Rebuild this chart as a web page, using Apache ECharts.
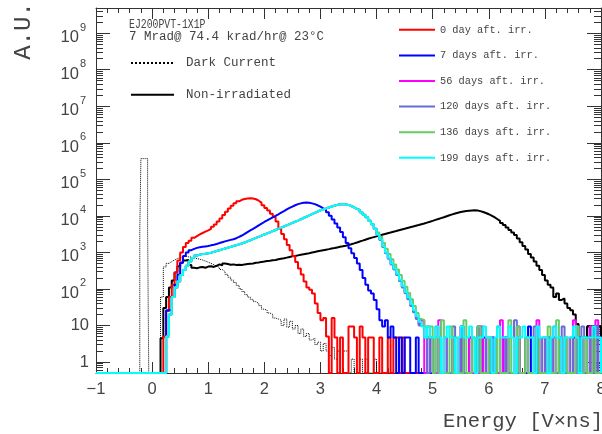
<!DOCTYPE html>
<html><head><meta charset="utf-8">
<script src="https://cdn.jsdelivr.net/npm/echarts@6/dist/echarts.min.js"></script>
<style>html,body{margin:0;padding:0;background:#fff}#c{width:602px;height:434px}</style>
</head><body><div id="c"></div>
<script>
// ---- data (bin width 0.05 in V x ns, values in A.U.; 0 = empty bin) ----
const BIN = 0.05;
const FLOOR = 0.5;
const xRange = [-1, 8];
const yRange = [0.5, 4.9e9];

const darkSpikeStart = -0.22, darkSpikeBin = 0.02;
const darkSpike = [3700, 370000, 370000, 370000, 370000, 370000, 370000, 3700];
const darkStart = 0.15;
const darkBody = [60, 400, 500, 560, 620, 680, 720, 760, 780, 760, 740, 700, 680, 650, 620, 580, 540, 500, 460, 420,
  390, 340, 300, 250, 210, 175, 150, 125, 100, 85, 70, 60, 52, 45, 40, 35, 28, 26, 22, 20,
  16, 15, 14, 10, 15, 9, 13, 8, 10, 6, 8, 5, 6, 4, 4.5, 3, 3.5,
  2, 3.2, 2, 1.5, 2.5, 1.2, 2, 0, 2, 2, 0, 1.2, 0, 0, 1.2, 0, 1.2, 0, 0, 1.2];

const nonIrrStart = 0.15;
const nonIrr = [4.5, 30, 60, 110, 170, 280, 420, 520, 600, 620,
  450, 380, 370, 390, 400, 380, 410, 420, 400, 430,
  470, 440, 500, 480, 460, 470, 450, 460, 450, 470,
  480, 490, 500, 520, 530, 550, 560, 580, 590, 610,
  620, 650, 670, 690, 720, 750, 780, 800, 830, 860,
  890, 920, 950, 990, 1030, 1070, 1110, 1150, 1190, 1230,
  1280, 1320, 1370, 1420, 1470, 1530, 1600, 1680, 1770, 1870,
  1980, 2100, 2230, 2370, 2500, 2620, 2750, 2900, 3050, 3200,
  3350, 3500, 3680, 3850, 4030, 4220, 4420, 4650, 4880, 5100,
  5350, 5600, 5900, 6200, 6550, 6900, 7300, 7750, 8200, 8700,
  9200, 9800, 10400, 11000, 11600, 12200, 12700, 13200, 13600, 13900,
  14100, 14200, 14000, 13500, 12800, 12000, 11100, 10200, 9200, 8200,
  7300, 6400, 5600, 4800, 4100, 3500, 3000, 2400, 1900, 1500,
  1200, 900, 720, 560, 430, 330, 240, 170, 130, 110,
  60, 75, 50, 55, 40, 30, 26, 20, 11, 0,
  0, 4.7, 9.4, 4.7, 9.4, 4.7, 9.4];

const day0Start = 0.20;
const day0 = [5, 25, 60, 130, 280, 600, 1000, 1400, 1800, 2100, 2500, 2800, 3100, 3400, 3700, 4000,
  4400, 5000, 5800, 7000, 8500, 10500, 13000, 16000, 19000, 22000, 25000, 27500, 29000, 30000,
  30500, 30000, 28500, 26000, 23000, 19500, 16500, 14000, 11500, 9500, 7000, 4500, 3200, 2300,
  1600, 1150, 800, 550, 360, 250, 160, 110, 95, 75, 40, 22,
  14, 16, 5, 0, 16, 4.7, 0, 4.7, 0, 0, 9.4, 9.4, 4.7, 0, 9.4, 4.7, 0, 4.7, 4.7, 0,
  0, 4.7, 0, 0, 4.7, 0, 4.7, 4.7, 0, 4.7];

const day7Start = 0.25;
const day7 = [26, 26, 60, 130, 250, 520, 800, 1000, 1150, 1250, 1330, 1380, 1420, 1460, 1500,
  1560, 1620, 1700, 1800, 1900, 2000, 2100, 2200, 2300, 2450, 2650, 2900, 3200, 3600, 4000,
  4400, 4900, 5500, 6100, 6800, 7500, 8300, 9100, 10000, 11000, 12200, 13500, 15000, 16500,
  18000, 19500, 21000, 22000, 23000, 23300, 23000, 22000, 21000, 19500, 17800, 16000, 14500,
  12500, 10000, 8000, 6200, 4800, 3600, 2600, 1800, 1300, 950, 700, 500, 330, 200, 130, 90, 75, 50, 28, 14,
  9.4, 14, 4.7, 9.4, 4.7, 0, 4.7, 0, 4.7, 4.7,
  0, 0, 4.7, 0, 0, 0, 4.7, 0, 0, 0,
  4.7, 0, 0, 0, 0, 4.7, 0, 0, 9.4, 0,
  0, 4.7, 0, 0, 9.4, 0, 4.7, 0, 0, 4.7,
  0, 0, 0, 4.7, 0, 0, 0, 0, 4.7, 0,
  0, 0, 9.4, 0, 0, 4.7, 0, 0, 0, 4.7,
  0, 0, 0, 4.7, 0, 0, 0, 0, 4.7, 0,
  4.7, 0, 0, 4.7, 4.7, 0, 4.7, 0];

// later measurements overlap on the rising part (0.25 .. 3.95)
const lateStart = 0.25;
const lateBody = [5, 20, 60, 110, 160, 240, 330, 430, 560, 700, 820, 870, 900, 920, 950,
  982, 1035, 1092, 1148, 1211, 1277, 1346, 1419, 1496, 1578, 1663, 1754, 1871, 2009, 2158, 2317, 2489, 2673, 2871, 3083,
  3304, 3548, 3811, 4093, 4406, 4753, 5117, 5521, 5957, 6412, 6918, 7447, 8054, 8730, 9484, 10280, 11170, 12100, 13150, 14260,
  15100, 16000, 17000, 18000, 19000, 20000, 20900, 21100, 20650, 19950, 18600, 17200, 15500, 14500, 12600, 10700, 9100, 7400, 5900, 4450];
// individual tails from 4.00
const day56Tail = [3100, 2250, 1450, 980, 690, 480, 350, 250, 170, 115, 80, 55, 36, 24, 16, 11,
  14, 0, 9.4, 4.7, 0, 0, 14, 0, 4.7, 0, 0, 4.7, 0, 0, 9.4, 0, 0, 4.7, 0, 0,
  0, 9.4, 0, 0, 4.7, 0, 0, 0, 14, 0, 4.7, 0, 0, 0, 9.4, 0, 0, 4.7, 0, 0,
  0, 14, 0, 0, 4.7, 0, 0, 9.4, 0, 0, 0, 4.7, 0, 0, 14, 0, 0, 4.7, 0, 0,
  9.4, 0, 14, 4.7];
const day120Tail = [3000, 2200, 1400, 950, 670, 470, 340, 240, 165, 110, 76, 52, 34, 23, 15, 10,
  9.4, 4.7, 0, 4.7, 0, 9.4, 0, 0, 4.7, 0, 0, 9.4, 0, 0, 4.7, 0, 0, 0, 4.7, 0,
  9.4, 0, 0, 4.7, 0, 0, 0, 9.4, 0, 0, 4.7, 0, 0, 14, 0, 0, 0, 4.7, 0, 0,
  9.4, 0, 0, 4.7, 0, 0, 0, 4.7, 0, 0, 9.4, 0, 0, 4.7, 0, 0, 0, 9.4, 0, 0,
  4.7, 0, 9.4, 0];
const day136Tail = [3500, 2700, 1800, 1250, 900, 650, 470, 340, 240, 165, 115, 78, 52, 34, 22, 15,
  14, 9.4, 4.7, 9.4, 0, 4.7, 0, 14, 0, 0, 9.4, 0, 4.7, 0, 0, 14, 0, 0, 4.7, 0,
  9.4, 0, 0, 0, 4.7, 0, 0, 9.4, 0, 0, 0, 14, 0, 0, 9.4, 0, 0, 4.7, 0, 0,
  0, 4.7, 0, 0, 0, 9.4, 0, 0, 14, 0, 0, 4.7, 0, 0, 0, 9.4, 0, 0, 4.7, 0,
  0, 4.7, 0, 0];
const day199Tail = [3160, 2290, 1480, 1000, 710, 500, 360, 260, 178, 120, 83, 58, 38, 26, 18, 12.6,
  9.4, 4.7, 9.4, 4.7, 4.7, 9.4, 4.7, 0, 4.7, 9.4, 4.7, 4.7, 0, 4.7, 9.4, 4.7, 4.7, 9.4, 4.7, 0,
  4.7, 4.7, 9.4, 4.7, 4.7, 0, 4.7, 9.4, 4.7, 4.7, 4.7, 9.4, 4.7, 0, 4.7, 4.7, 9.4, 4.7, 4.7, 4.7,
  0, 9.4, 4.7, 4.7, 4.7, 0, 4.7, 9.4, 4.7, 4.7, 0, 4.7, 4.7, 4.7, 9.4, 4.7, 0, 4.7, 4.7, 4.7,
  4.7, 9.4, 4.7, 4.7];

const legendNames = ['0 day aft. irr.', '7 days aft. irr.', '56 days aft. irr.',
  '120 days aft. irr.', '136 days aft. irr.', '199 days aft. irr.'];
const colors = ['#ff0000', '#0000ff', '#ff00ff', '#6b6bd6', '#66cc66', '#00ffff'];

// ---- build step-histogram point lists ----
function r4(v) { return Math.round(v * 10000) / 10000; }
function hist(segments) {
  const pts = [[xRange[0], FLOOR]];
  segments.forEach(function (s) {
    pts.push([r4(s.start), FLOOR]);
    s.values.forEach(function (v, i) { pts.push([r4(s.start + i * s.bin), v > 0 ? v : FLOOR]); });
    pts.push([r4(s.start + s.values.length * s.bin), FLOOR]);
  });
  pts.push([xRange[1], FLOOR]);
  return pts;
}
function seg(start, values, bin) { return { start: start, values: values, bin: bin || BIN }; }

function lineSeries(name, data, color, width, type) {
  return {
    name: name, type: 'line', step: 'end', symbol: 'none', showSymbol: false,
    data: data, clip: true, silent: true,
    lineStyle: { color: color, width: width, type: type || 'solid' },
    itemStyle: { color: color }
  };
}

const series = [
  lineSeries('Dark Current', hist([seg(darkSpikeStart, darkSpike, darkSpikeBin), seg(darkStart, darkBody)]), '#000', 1, 'dotted'),
  lineSeries('Non-irradiated', hist([seg(nonIrrStart, nonIrr)]), '#000', 2),
  lineSeries(legendNames[0], hist([seg(day0Start, day0)]), colors[0], 2),
  lineSeries(legendNames[1], hist([seg(day7Start, day7)]), colors[1], 2),
  lineSeries(legendNames[2], hist([seg(lateStart, lateBody.concat(day56Tail))]), colors[2], 2),
  lineSeries(legendNames[3], hist([seg(lateStart, lateBody.concat(day120Tail))]), colors[3], 2),
  lineSeries(legendNames[4], hist([seg(lateStart, lateBody.concat(day136Tail))]), colors[4], 2),
  lineSeries(legendNames[5], hist([seg(lateStart, lateBody.concat(day199Tail))]), colors[5], 2)
];

const AX = '#333';
const TXT = '#444';
function logAxis(pos, showLabel) {
  return {
    type: 'log', logBase: 10, position: pos, min: yRange[0], max: yRange[1], splitNumber: 10,
    axisLine: { show: true, onZero: false, lineStyle: { color: AX, width: 1 } },
    axisTick: { show: true, inside: true, length: 14, lineStyle: { color: AX } },
    minorTick: { show: true, splitNumber: 9, length: 7, lineStyle: { color: AX } },
    splitLine: { show: false }, minorSplitLine: { show: false },
    axisLabel: {
      show: showLabel, margin: 7, showMinLabel: false, showMaxLabel: false,
      formatter: function (v) {
        const e = Math.round(Math.log10(v));
        if (e === 0) return '{n|1}';
        if (e === 1) return '{n|10}';
        return '{b|10}{s|' + e + '}';
      },
      rich: {
        n: { fontSize: 16.5, fontFamily: 'Liberation Sans', color: TXT },
        b: { fontSize: 16.5, fontFamily: 'Liberation Sans', color: TXT, padding: [9, 0, 0, 0] },
        s: { fontSize: 11, fontFamily: 'Liberation Sans', color: TXT, verticalAlign: 'top', padding: [2, 3, 0, 1] }
      }
    }
  };
}
function xAxis(pos, showLabel) {
  return {
    type: 'value', position: pos, min: xRange[0], max: xRange[1], interval: 1,
    axisLine: { show: true, onZero: false, lineStyle: { color: AX, width: 1 } },
    axisTick: { show: true, inside: true, length: 11, lineStyle: { color: AX } },
    minorTick: { show: true, splitNumber: 5, length: 5, lineStyle: { color: AX } },
    splitLine: { show: false }, minorSplitLine: { show: false },
    axisLabel: {
      show: showLabel, margin: 8, fontSize: 16.5, fontFamily: 'Liberation Sans', color: TXT,
      formatter: function (v) { return String(v).replace('-', '\u2212'); }
    }
  };
}

const chart = echarts.init(document.getElementById('c'), null, { renderer: 'canvas' });
chart.setOption({
  animation: false,
  backgroundColor: '#fff',
  grid: { left: 96, right: 1, top: 8, bottom: 61, containLabel: false, outerBoundsMode: 'none' },
  xAxis: [xAxis('bottom', true), xAxis('top', false)],
  yAxis: [logAxis('left', true), logAxis('right', false)],
  legend: [
    {
      data: legendNames, orient: 'vertical', left: 398, top: 24.2, padding: 0,
      itemWidth: 36, itemHeight: 14, itemGap: 14.4, selectedMode: false,
      itemStyle: { opacity: 0 }, lineStyle: { opacity: 1 },
      textStyle: { fontFamily: 'Liberation Mono', fontSize: 10.3, color: TXT }
    },
    {
      data: ['Dark Current', 'Non-irradiated'], orient: 'vertical', left: 130, top: 56.6, padding: 0,
      itemWidth: 43, itemHeight: 14, itemGap: 18.6, selectedMode: false,
      itemStyle: { opacity: 0 }, lineStyle: { opacity: 1 },
      textStyle: { fontFamily: 'Liberation Mono', fontSize: 12.5, color: TXT, padding: [0, 0, 0, 7] }
    }
  ],
  graphic: [
    { type: 'text', x: 129, y: 24.7, scaleY: 1.25, style: { text: 'EJ200PVT-1X1P', fontFamily: 'Liberation Mono', fontSize: 9.8, fill: TXT, verticalAlign: 'middle' } },
    { type: 'text', x: 129, y: 37, style: { text: '7 Mrad@ 74.4 krad/hr@ 23\u00B0C', fontFamily: 'Liberation Mono', fontSize: 12.5, fill: TXT, verticalAlign: 'middle' } },
    { type: 'text', x: 24, y: 31, rotation: Math.PI / 2, style: { text: 'A.U.', fontFamily: 'Liberation Mono', fontSize: 24, fill: TXT, align: 'center', verticalAlign: 'middle' } },
    { type: 'text', x: 603, y: 422, style: { text: 'Energy [V\u00D7ns]', fontFamily: 'Liberation Mono', fontSize: 20.5, fill: TXT, align: 'right', verticalAlign: 'middle' } }
  ],
  series: series.map(function (s) { s.xAxisIndex = 0; s.yAxisIndex = 0; return s; })
});
</script></body></html>
